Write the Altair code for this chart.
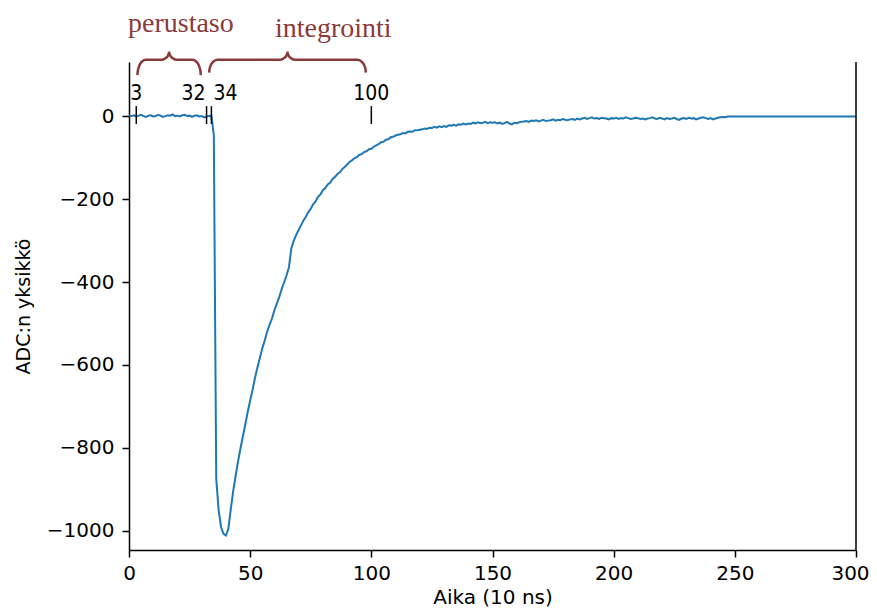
import altair as alt
import numpy as np
import pandas as pd

# ---- waveform samples (ADC units), one per 10 ns sample ----
adc_baseline = [2, 1, 3, 0, 2, 4, 1, -1, 2, 3, 0, 1, 4, 2, -1, 1, 3, 2, 5, 1,
                2, 0, 3, 4, 1, 2, -1, 2, 3, 0, 1, -2, 0, 1, 2]                    # 0-34
adc_pulse = [-45, -875, -952, -992, -1008, -1012, -996, -948, -905, -868,
             -833, -802, -772, -744, -713, -686, -660, -631, -606, -583,
             -560, -541, -520, -503, -488, -468, -452, -436, -417, -401,
             -384, -364]                                                          # 35-66
adc_decay = [-318, -300, -286, -274, -263, -251, -242, -231, -223, -212,
             -205, -194, -188, -178, -173, -164, -160, -151, -146, -139,
             -135, -127, -122, -116, -110, -106, -101, -98, -93, -91,
             -86, -84, -79, -78, -73, -70, -67, -62, -61, -56,
             -55, -50, -49, -46, -44, -43, -40, -41, -37, -36,
             -37, -33, -33, -32]                                                  # 67-120
adc_tail1 = [-31, -29, -30, -27, -28, -25, -27, -24, -26, -23,
             -25, -21, -22, -20, -22, -19, -20, -17, -19, -17,
             -18, -15, -17, -14, -16, -15, -13, -16, -14, -15]                    # 121-150
adc_tail2 = [-14, -17, -15, -18, -16, -13, -17, -19, -15, -16, -14, -13,
             -12, -11, -13, -10, -11, -9, -12, -10, -8, -11, -10, -9,
             -7, -10, -8, -9, -6, -8, -9, -7, -6, -8, -5, -7]                     # 151-186
adc_tail3 = [-5, -3, -6, -4, -2, -5, -4, -6, -3, -4, -5, -7, -4, -5,
             -3, -6, -4, -5, -2, -4, -6, -5, -3, -4, -6, -5, -7, -5]              # 187-214
adc_tail4 = [-4, -2, -5, -6, -3, -5, -7, -4, -6, -5, -3, -6, -8, -5, -4,
             -6, -3, -5, -4, -7, -5, -3, -2, -4, -6, -4, -7, -5, -3, -2,
             -1, -2, 0]                                                           # 215-247
adc_flat = [0] * 53                                                               # 248-300

adc = adc_baseline + adc_pulse + adc_decay + adc_tail1 + adc_tail2 + adc_tail3 + adc_tail4 + adc_flat
samples = list(range(len(adc)))

# ---- annotation values ----
marker_x = [3, 32, 34, 100]
marker_labels = ["3", "32", "34", "100"]
marker_align = ["center", "right", "left", "center"]
brace_names = ["perustaso", "integrointi"]
brace_start = [3.5, 33.1]
brace_end = [29.6, 97.7]
brace_text_x = [21.4, 84.3]
brace_text_y = [203, 193]
brace_foot = [100, 106]

x_ticks = [0, 50, 100, 150, 200, 250, 300]
y_ticks = [0, -200, -400, -600, -800, -1000]
Y_TOP, Y_BOTTOM = 131.6, -1047
X_MIN, X_MAX = 0, 300

ANNOT = "#8B3A3A"
FONT = "DejaVu Sans"

xs = alt.Scale(domain=[X_MIN, X_MAX], nice=False, zero=False)
ys = alt.Scale(domain=[Y_BOTTOM, Y_TOP], nice=False, zero=False)
x_axis = alt.Axis(values=x_ticks, title="Aika (10 ns)", format="d", labelFlush=False,
                  labelFontSize=20, titleFontSize=20, titlePadding=4, labelPadding=6,
                  labelOffset=alt.ExprRef(expr=f"datum.value == {X_MAX} ? -6 : 0"))
y_axis = alt.Axis(values=y_ticks, title="ADC:n yksikkö", format="d", labelFlush=False,
                  labelFontSize=20, titleFontSize=19, titlePadding=13, labelPadding=8)


def X(field):
    return alt.X(field, scale=xs, axis=x_axis)


def Y(field):
    return alt.Y(field, scale=ys, axis=y_axis)


wave = pd.DataFrame({"t": samples, "v": adc})

line = alt.Chart(wave).mark_line(color="#1f77b4", strokeWidth=2).encode(
    x=X("t:Q"), y=Y("v:Q"),
)

# right spine
spine = alt.Chart(pd.DataFrame({"t": [X_MAX], "v": [Y_TOP], "b": [Y_BOTTOM]})).mark_rule(
    color="black", strokeWidth=1.5).encode(
    x=X("t:Q"), y=Y("v:Q"), y2="b:Q",
)

marks_df = pd.DataFrame({"t": marker_x, "lab": marker_labels, "al": marker_align,
                         "v": [25] * 4, "bot": [-18] * 4, "ty": [41] * 4})
ticks = alt.Chart(marks_df).mark_rule(color="black", strokeWidth=1.5).encode(
    x=X("t:Q"), y=Y("v:Q"), y2="bot:Q",
)

label_layers = []
for al, dx in [("center", 0), ("right", -1), ("left", 2)]:
    label_layers.append(
        alt.Chart(marks_df).transform_filter(alt.datum.al == al).mark_text(
            align=al, baseline="alphabetic", dx=dx, fontSize=21,
            font="DejaVu Sans Condensed, DejaVu Sans", color="black").encode(
            x=X("t:Q"), y=Y("ty:Q"), text="lab:N",
        )
    )

# braces
rows = []
for name, x0, x1, foot in zip(brace_names, brace_start, brace_end, brace_foot):
    mid, tip, w = 137, 157, 3.5
    m = (x0 + x1) / 2
    ts = np.linspace(0, np.pi / 2, 12)
    pts = []
    pts += [(x0 + w * (1 - np.cos(a)), foot + (mid - foot) * np.sin(a)) for a in ts]
    pts += [(m - w + w * np.sin(a), mid + (tip - mid) * (1 - np.cos(a))) for a in ts]
    pts += [(m + w - w * np.sin(a), mid + (tip - mid) * (1 - np.cos(a))) for a in ts[::-1]]
    pts += [(x1 - w * (1 - np.cos(a)), foot + (mid - foot) * np.sin(a)) for a in ts[::-1]]
    for i, (px, py) in enumerate(pts):
        rows.append({"name": name, "t": px, "v": py, "i": i})
brace_df = pd.DataFrame(rows)

braces = alt.Chart(brace_df).mark_line(color=ANNOT, strokeWidth=2.5).encode(
    x=X("t:Q"), y=Y("v:Q"), detail="name:N", order="i:Q",
)

btext = alt.Chart(pd.DataFrame({"t": brace_text_x, "v": brace_text_y, "name": brace_names})).mark_text(
    align="center", baseline="alphabetic", fontSize=28, font="Liberation Serif", color=ANNOT).encode(
    x=X("t:Q"), y=Y("v:Q"), text="name:N",
)

chart = alt.layer(line, spine, ticks, *label_layers, braces, btext).properties(
    width=727, height=488,
    autosize=alt.AutoSizeParams(type="none"),
    padding={"left": 121, "top": 54, "right": 13, "bottom": 58},
).configure_view(stroke=None).configure_axis(
    grid=False,
    domainColor="black", domainWidth=1.5,
    tickColor="black", tickWidth=1.5, tickSize=7,
    labelFont=FONT, labelColor="black",
    titleFont=FONT, titleColor="black", titleFontWeight="normal",
)

chart.save("out.html", embed_options={"renderer": "svg", "actions": False})
